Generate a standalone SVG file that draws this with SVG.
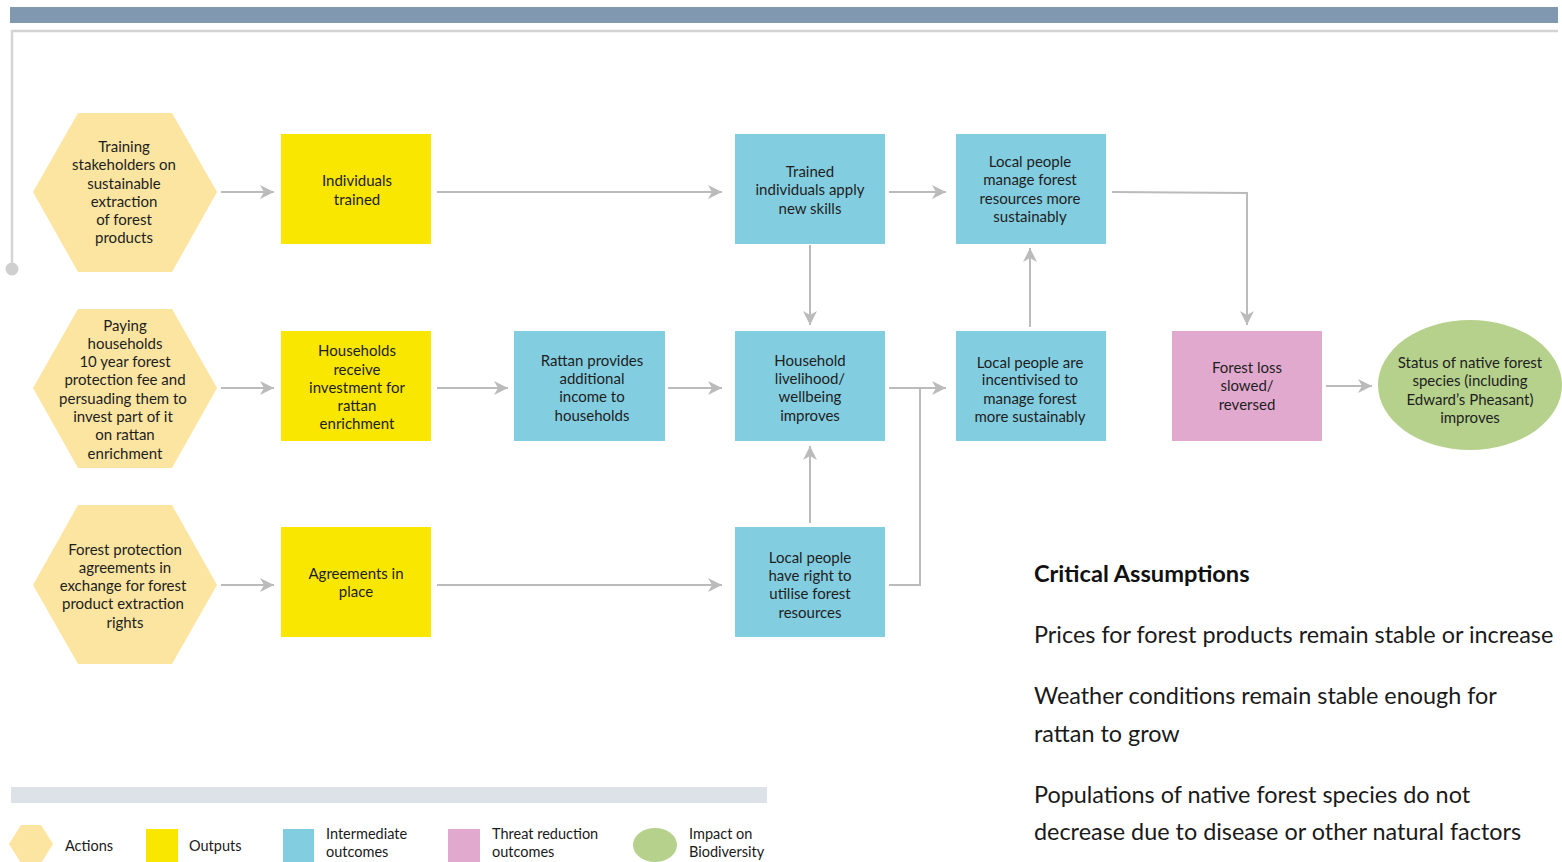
<svg xmlns="http://www.w3.org/2000/svg" width="1562" height="862" viewBox="0 0 1562 862">
  <style>
    .lbl { font-family: Lato, "Open Sans", "Liberation Sans", sans-serif; font-size: 15px; fill: #1e1e1e; text-anchor: middle; }
    .leg { font-family: Lato, "Open Sans", "Liberation Sans", sans-serif; font-size: 14.5px; fill: #1a1a1a; }
    .ca { font-family: Lato, "Open Sans", "Liberation Sans", sans-serif; font-size: 23.4px; fill: #1a1a1a; }
    .cah { font-family: Lato, "Open Sans", "Liberation Sans", sans-serif; font-size: 23.6px; font-weight: bold; fill: #111; }
    .hex { fill: #fbe5a1; }
    .out { fill: #f9e700; }
    .mid { fill: #83cde0; }
    .thr { fill: #e2a9cf; }
    .imp { fill: #b5d18c; }
    .con { fill: none; stroke: #bbbbbb; stroke-width: 2; }
  </style>
  <defs>
    <marker id="arr" markerUnits="userSpaceOnUse" markerWidth="16" markerHeight="14" refX="14" refY="7" orient="auto">
      <path d="M0,0 L14,7 L0,14 L4,7 z" fill="#bbbbbb"/>
    </marker>
  </defs>

  <!-- header band and frame line -->
  <rect x="10" y="7" width="1548" height="16" fill="#8199b0"/>
  <polyline points="12,268 12,31 1558,31" fill="none" stroke="#d4d4d4" stroke-width="2.5"/>
  <circle cx="12" cy="269" r="6.5" fill="#cfcfcf"/>

  <!-- connectors -->
  <g id="connectors">
    <line class="con" x1="221" y1="192" x2="274" y2="192" marker-end="url(#arr)"/>
    <line class="con" x1="437" y1="192" x2="722" y2="192" marker-end="url(#arr)"/>
    <line class="con" x1="889" y1="192" x2="946" y2="192" marker-end="url(#arr)"/>
    <polyline class="con" points="1112,192 1247,193 1247,325" marker-end="url(#arr)"/>
    <line class="con" x1="810" y1="245" x2="810" y2="325" marker-end="url(#arr)"/>
    <line class="con" x1="221" y1="388" x2="274" y2="388" marker-end="url(#arr)"/>
    <line class="con" x1="437" y1="388" x2="508" y2="388" marker-end="url(#arr)"/>
    <line class="con" x1="668" y1="388" x2="722" y2="388" marker-end="url(#arr)"/>
    <line class="con" x1="889" y1="388" x2="946" y2="388" marker-end="url(#arr)"/>
    <polyline class="con" points="889,585 920,585 920,388"/>
    <line class="con" x1="1030" y1="327" x2="1030" y2="248" marker-end="url(#arr)"/>
    <line class="con" x1="1326" y1="386" x2="1372" y2="386" marker-end="url(#arr)"/>
    <line class="con" x1="221" y1="585" x2="274" y2="585" marker-end="url(#arr)"/>
    <line class="con" x1="437" y1="585" x2="722" y2="585" marker-end="url(#arr)"/>
    <line class="con" x1="810" y1="523" x2="810" y2="446" marker-end="url(#arr)"/>
  </g>

  <!-- actions -->
  <g id="action-training">
    <polygon class="hex" points="33,192 78,113 172,113 217,192 172,272 78,272"/>
    <text class="lbl"><tspan x="124" y="152">Training</tspan><tspan x="124" y="170">stakeholders on</tspan><tspan x="124" y="188.5">sustainable</tspan><tspan x="124" y="206.5">extraction</tspan><tspan x="124" y="225">of forest</tspan><tspan x="124" y="243">products</tspan></text>
  </g>
  <g id="action-paying">
    <polygon class="hex" points="33,388 78,309 172,309 217,388 172,468 78,468"/>
    <text class="lbl"><tspan x="125" y="331">Paying</tspan><tspan x="125" y="349">households</tspan><tspan x="125" y="367">10 year forest</tspan><tspan x="125" y="385">protection fee and</tspan><tspan x="123" y="403.5">persuading them to</tspan><tspan x="123" y="422">invest part of it</tspan><tspan x="125" y="440">on rattan</tspan><tspan x="125" y="458.5">enrichment</tspan></text>
  </g>
  <g id="action-agreements">
    <polygon class="hex" points="33,585 78,505 172,505 217,585 172,664 78,664"/>
    <text class="lbl"><tspan x="125" y="554.5">Forest protection</tspan><tspan x="125" y="572.5">agreements in</tspan><tspan x="123" y="591">exchange for forest</tspan><tspan x="123" y="609">product extraction</tspan><tspan x="125" y="627.5">rights</tspan></text>
  </g>

  <!-- outputs -->
  <g id="output-trained">
    <rect class="out" x="281" y="134" width="150" height="110"/>
    <text class="lbl"><tspan x="357" y="186">Individuals</tspan><tspan x="357" y="204.5">trained</tspan></text>
  </g>
  <g id="output-investment">
    <rect class="out" x="281" y="331" width="150" height="110"/>
    <text class="lbl"><tspan x="357" y="356">Households</tspan><tspan x="357" y="375">receive</tspan><tspan x="357" y="393">investment for</tspan><tspan x="357" y="411">rattan</tspan><tspan x="357" y="429">enrichment</tspan></text>
  </g>
  <g id="output-agreements">
    <rect class="out" x="281" y="527" width="150" height="110"/>
    <text class="lbl"><tspan x="356" y="579">Agreements in</tspan><tspan x="356" y="597">place</tspan></text>
  </g>

  <!-- intermediate outcomes -->
  <g id="outcome-rattan-income">
    <rect class="mid" x="514" y="331" width="151" height="110"/>
    <text class="lbl"><tspan x="592" y="366">Rattan provides</tspan><tspan x="592" y="384">additional</tspan><tspan x="592" y="402">income to</tspan><tspan x="592" y="420.5">households</tspan></text>
  </g>
  <g id="outcome-skills">
    <rect class="mid" x="735" y="134" width="150" height="110"/>
    <text class="lbl"><tspan x="810" y="176.5">Trained</tspan><tspan x="810" y="195">individuals apply</tspan><tspan x="810" y="213.5">new skills</tspan></text>
  </g>
  <g id="outcome-livelihood">
    <rect class="mid" x="735" y="331" width="150" height="110"/>
    <text class="lbl"><tspan x="810" y="366">Household</tspan><tspan x="810" y="384">livelihood/</tspan><tspan x="810" y="402">wellbeing</tspan><tspan x="810" y="420.5">improves</tspan></text>
  </g>
  <g id="outcome-rights">
    <rect class="mid" x="735" y="527" width="150" height="110"/>
    <text class="lbl"><tspan x="810" y="562.5">Local people</tspan><tspan x="810" y="581">have right to</tspan><tspan x="810" y="599">utilise forest</tspan><tspan x="810" y="617.5">resources</tspan></text>
  </g>
  <g id="outcome-manage">
    <rect class="mid" x="956" y="134" width="150" height="110"/>
    <text class="lbl"><tspan x="1030" y="167">Local people</tspan><tspan x="1030" y="185">manage forest</tspan><tspan x="1030" y="203.5">resources more</tspan><tspan x="1030" y="221.5">sustainably</tspan></text>
  </g>
  <g id="outcome-incentivised">
    <rect class="mid" x="956" y="331" width="150" height="110"/>
    <text class="lbl"><tspan x="1030" y="367.5">Local people are</tspan><tspan x="1030" y="385">incentivised to</tspan><tspan x="1030" y="403.5">manage forest</tspan><tspan x="1030" y="422">more sustainably</tspan></text>
  </g>

  <!-- threat reduction -->
  <g id="threat-forest-loss">
    <rect class="thr" x="1172" y="331" width="150" height="110"/>
    <text class="lbl"><tspan x="1247" y="372.5">Forest loss</tspan><tspan x="1247" y="391">slowed/</tspan><tspan x="1247" y="409.5">reversed</tspan></text>
  </g>

  <!-- biodiversity impact -->
  <g id="impact-species">
    <ellipse class="imp" cx="1470" cy="385" rx="92" ry="65"/>
    <text class="lbl"><tspan x="1470" y="367.5">Status of native forest</tspan><tspan x="1470" y="386">species (including</tspan><tspan x="1470" y="404.5">Edward’s Pheasant)</tspan><tspan x="1470" y="423">improves</tspan></text>
  </g>

  <!-- critical assumptions -->
  <g id="assumptions">
    <text class="cah" x="1034" y="582">Critical Assumptions</text>
    <text class="ca" x="1034" y="643">Prices for forest products remain stable or increase</text>
    <text class="ca" x="1034" y="704">Weather conditions remain stable enough for</text>
    <text class="ca" x="1034" y="742">rattan to grow</text>
    <text class="ca" x="1034" y="803">Populations of native forest species do not</text>
    <text class="ca" x="1034" y="840">decrease due to disease or other natural factors</text>
  </g>

  <!-- legend -->
  <g id="legend">
    <rect x="11" y="787" width="756" height="16" fill="#dde1e8"/>
    <polygon class="hex" points="9,844 21,825 41,825 53,844 41,863 21,863"/>
    <text class="leg" x="65" y="851">Actions</text>
    <rect class="out" x="146" y="829" width="32" height="33"/>
    <text class="leg" x="189" y="851">Outputs</text>
    <rect class="mid" x="283" y="829" width="31" height="33"/>
    <text class="leg"><tspan x="326" y="839">Intermediate</tspan><tspan x="326" y="857">outcomes</tspan></text>
    <rect class="thr" x="448" y="829" width="32" height="33"/>
    <text class="leg"><tspan x="492" y="839">Threat reduction</tspan><tspan x="492" y="857">outcomes</tspan></text>
    <ellipse class="imp" cx="655" cy="845" rx="22" ry="17"/>
    <text class="leg"><tspan x="689" y="839">Impact on</tspan><tspan x="689" y="857">Biodiversity</tspan></text>
  </g>
</svg>
